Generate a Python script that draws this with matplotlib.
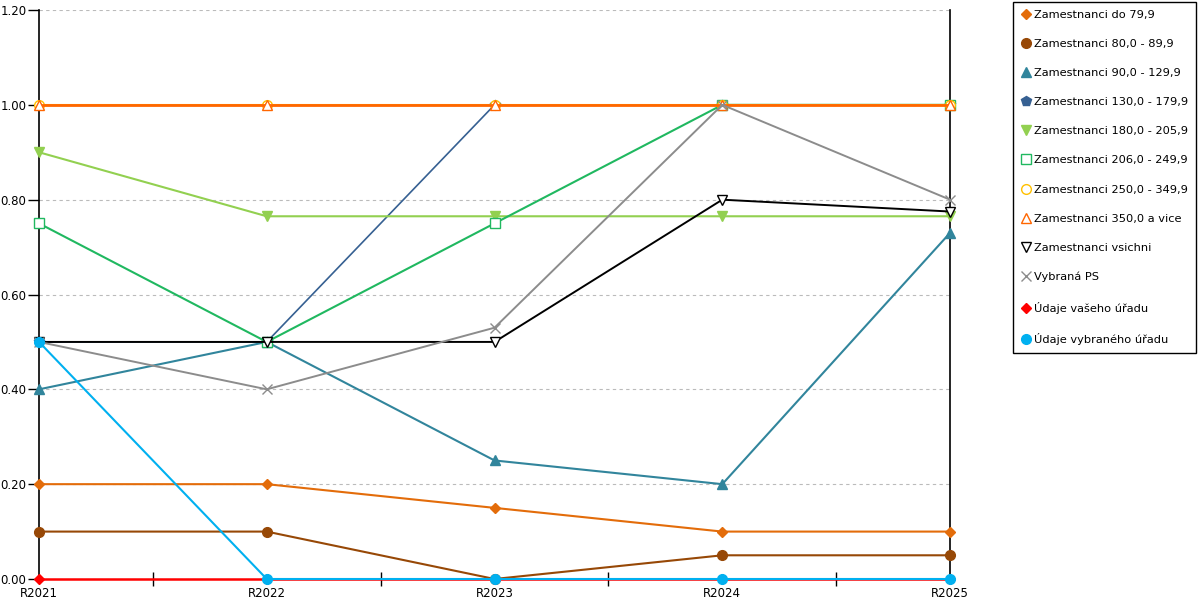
import matplotlib
matplotlib.use("Agg")
import matplotlib.pyplot as plt
from matplotlib.lines import Line2D
import numpy as np

years = ["R2021", "R2022", "R2023", "R2024", "R2025"]

s_do79 = [0.20, 0.20, 0.15, 0.10, 0.10]
s_80 = [0.10, 0.10, 0.00, 0.05, 0.05]
s_90 = [0.40, 0.50, 0.25, 0.20, 0.73]
s_130 = [0.50, 0.50, 1.00, 1.00, 1.00]
s_180 = [0.90, 0.765, 0.765, 0.765, 0.765]
s_206 = [0.75, 0.50, 0.75, 1.00, 1.00]
s_250 = [1.00, 1.00, 1.00, 1.00, 1.00]
s_350 = [1.00, 1.00, 1.00, 1.00, 1.00]
s_all = [0.50, 0.50, 0.50, 0.80, 0.775]
s_ps = [0.50, 0.40, 0.53, 1.00, 0.80]
s_vas = [0.00, 0.00, 0.00, 0.00, 0.00]
s_vyb = [0.50, 0.00, 0.00, 0.00, 0.00]

# name, values, color, marker, filled, line width, marker size
series = [
    ("Zamestnanci do 79,9", s_do79, "#E36C0A", "D", True, 1.5, 5.5),
    ("Zamestnanci 80,0 - 89,9", s_80, "#974806", "o", True, 1.5, 7),
    ("Zamestnanci 90,0 - 129,9", s_90, "#31859C", "^", True, 1.5, 7),
    ("Zamestnanci 130,0 - 179,9", s_130, "#366092", "p", True, 1.2, 7),
    ("Zamestnanci 180,0 - 205,9", s_180, "#92D050", "v", True, 1.5, 7),
    ("Zamestnanci 206,0 - 249,9", s_206, "#20B860", "s", False, 1.5, 7),
    ("Zamestnanci 250,0 - 349,9", s_250, "#FFC000", "o", False, 1.5, 7),
    ("Zamestnanci 350,0 a vice", s_350, "#FF6600", "^", False, 2.0, 7),
    ("Zamestnanci vsichni", s_all, "#000000", "v", False, 1.4, 7),
    ("Vybraná PS", s_ps, "#8C8C8C", "x", False, 1.4, 7),
    ("Údaje vašeho úřadu", s_vas, "#FF0000", "D", True, 1.8, 5.5),
    ("Údaje vybraného úřadu", s_vyb, "#00B0F0", "o", True, 1.5, 7),
]

plt.rcParams["font.family"] = ["DejaVu Sans"]
plt.rcParams["font.size"] = 8.5

fig = plt.figure(figsize=(12, 6), dpi=100)
ax = fig.add_axes([0.0325, 0.035, 0.7592, 0.9483])

x = np.arange(len(years))
handles = []
for name, vals, col, mk, filled, lw, ms in series:
    fc = col if filled else "white"
    if mk == "x":
        fc = col
    ax.plot(x, vals, color=col, lw=lw, marker=mk, ms=ms,
            markerfacecolor=fc, markeredgecolor=col, markeredgewidth=1.0,
            clip_on=False, zorder=3)
    handles.append(Line2D([], [], ls="none", marker=mk, ms=ms,
                          markerfacecolor=fc, markeredgecolor=col,
                          markeredgewidth=1.0, label=name))

ax.set_xlim(0, 4)
ax.set_ylim(0, 1.2)
ax.set_yticks(np.arange(0, 1.21, 0.2))
ax.set_yticklabels([f"{v:.2f}" for v in np.arange(0, 1.21, 0.2)])
ax.set_xticks(x)
ax.set_xticklabels(years)
ax.set_xticks(x[:-1] + 0.5, minor=True)
ax.tick_params(axis="x", which="major", length=0, pad=6, labelsize=8.5)
ax.tick_params(axis="x", which="minor", direction="inout", length=10, width=1)
ax.tick_params(axis="y", direction="out", length=8, width=1, pad=1, labelsize=8.5)

ax.grid(axis="y", color="#BBBBBB", ls=(0, (3, 3)), lw=0.8)
ax.set_axisbelow(True)
ax.spines["top"].set_visible(False)
ax.spines["bottom"].set_visible(False)
for sp in ("left", "right"):
    ax.spines[sp].set_color("black")
    ax.spines[sp].set_linewidth(1.2)

leg = fig.legend(handles=handles, loc="upper left", bbox_to_anchor=(0.8442, 0.997),
                 frameon=True, fancybox=False, edgecolor="black", framealpha=1,
                 labelspacing=1.68, handlelength=0.8, handletextpad=0.35,
                 borderpad=0.7, borderaxespad=0, fontsize=8.2)

fig.savefig("out.png", dpi=100)
